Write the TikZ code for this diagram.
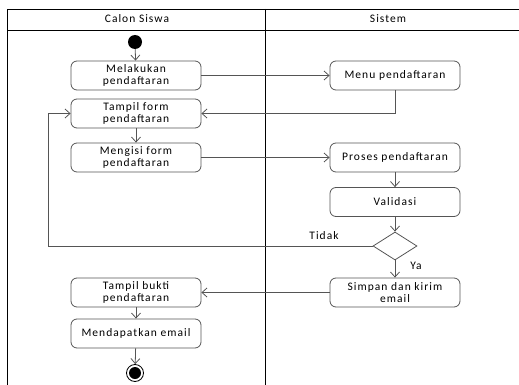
\documentclass[tikz,border=0pt]{standalone}
\usepackage{fontspec}
\setmainfont{Carlito}[LetterSpace=9]
\usetikzlibrary{arrows.meta,shapes.geometric}
\definecolor{linegray}{RGB}{85,85,85}
\begin{document}
\begin{tikzpicture}[x=1pt,y=-1pt,
    activity/.style={draw=linegray,line width=0.8pt,rounded corners=6pt,minimum width=130pt,
      minimum height=29pt,align=center,inner sep=1pt,
      font=\fontsize{11.5}{12.5}\selectfont},
    flow/.style={draw=linegray,line width=0.8pt,-{Straight Barb[length=5pt,width=9pt]}},
    lane/.style={draw=black,line width=0.7pt},
    guard/.style={font=\fontsize{11.5}{12.5}\selectfont}]
  \useasboundingbox (0,0) rectangle (519,385);
  % swimlanes
  \draw[lane] (7,385) -- (7,9) -- (519,9);
  \draw[lane] (7,30) -- (519,30);
  \draw[lane] (265,9) -- (265,385);
  \node[guard] (lanecalon) at (137,19) {Calon Siswa};
  \node[guard] (lanesistem) at (388,19) {Sistem};
  % nodes
  \node[circle,fill=black,minimum size=14pt,inner sep=0pt] (start) at (135,42) {};
  \node[activity] (melakukan) at (136,75.5) {Melakukan\\pendaftaran};
  \node[activity] (menu) at (395,75.5) {Menu pendaftaran};
  \node[activity] (tampilform) at (136,113.5) {Tampil form\\pendaftaran};
  \node[activity] (mengisi) at (136,157.5) {Mengisi form\\pendaftaran};
  \node[activity] (proses) at (395,157.5) {Proses pendaftaran};
  \node[activity] (validasi) at (395,202) {Validasi};
  \node[diamond,draw=linegray,line width=0.8pt,minimum width=44pt,minimum height=28pt,inner sep=0pt] (decide) at (395,246) {};
  \node[activity] (simpan) at (395,292.5) {Simpan dan kirim\\email};
  \node[activity] (tampilbukti) at (136,292.5) {Tampil bukti\\pendaftaran};
  \node[activity] (mendapatkan) at (136,333.5) {Mendapatkan email};
  \node[circle,draw=black,line width=0.8pt,minimum size=17pt,inner sep=0pt] (stop) at (135,373) {};
  \node[circle,fill=black,minimum size=12pt,inner sep=0pt] (stopdot) at (stop) {};
  \coordinate (loopcorner) at (48,246);
  % guards
  \node[guard] (tidak) at (324,236) {Tidak};
  \node[guard] (ya) at (416,266) {Ya};
  % flows
  \draw[flow] (start) -- (melakukan);
  \draw[flow] (melakukan) -- (menu);
  \draw[flow] (menu.south) |- (tampilform.east);
  \draw[flow] (tampilform) -- (mengisi);
  \draw[flow] (mengisi) -- (proses);
  \draw[flow] (proses) -- (validasi);
  \draw[flow] (validasi) -- (decide);
  \draw[flow] (decide.west) -- (loopcorner) |- (tampilform.west);
  \draw[flow] (decide) -- (simpan);
  \draw[flow] (simpan) -- (tampilbukti);
  \draw[flow] (tampilbukti) -- (mendapatkan);
  \draw[flow] (mendapatkan) -- (stop);
\end{tikzpicture}
\end{document}
